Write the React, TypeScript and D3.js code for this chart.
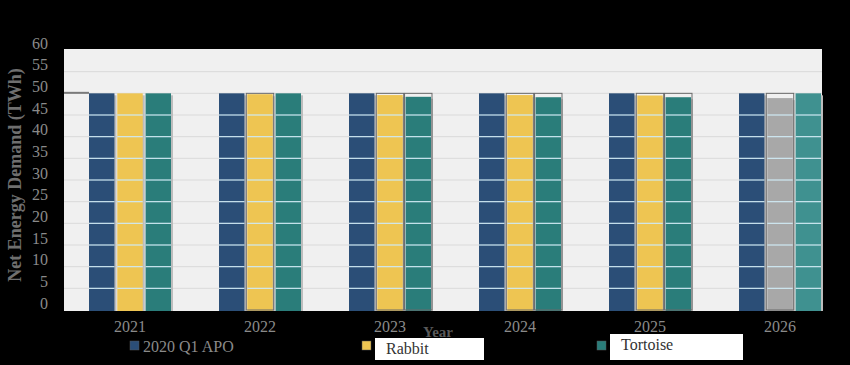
import React, { useRef, useEffect } from "react";
import * as d3 from "d3";

const years = ["2021", "2022", "2023", "2024", "2025", "2026"];
const seriesNames = ["2020 Q1 APO", "Rabbit", "Tortoise"];
const apo = [50.0, 50.0, 50.0, 50.0, 50.0, 50.0];
const rabbit = [50.0, 49.8, 49.6, 49.6, 49.5, 48.9];
const tortoise = [50.0, 50.0, 49.2, 49.1, 49.1, 50.0];
const yTicks = [0, 5, 10, 15, 20, 25, 30, 35, 40, 45, 50, 55, 60];

const colors = ["#2b4e77", "#eec552", "#2a7d7a"];
// 2026 drawn differently in the source
const lastColors = ["#2b4e77", "#a8a8a8", "#3f9190"];

function App() {
  const svgRef = useRef<SVGSVGElement>(null);

  useEffect(() => {
    document.body.style.margin = "0";
    document.body.style.background = "#000";

    const w = 850;
    const h = 365;
    const svg = d3.select(svgRef.current).attr("width", w).attr("height", h);
    svg.selectAll("*").remove();

    const font = "'Liberation Serif', 'DejaVu Serif', serif";
    const plot = { left: 64, right: 822, top: 49, bottom: 311 };

    svg.append("rect").attr("width", w).attr("height", h).attr("fill", "#000");

    const x = d3.scaleBand().domain(years).range([65, 845]).padding(0);
    const y = d3.scaleLinear().domain([0, 60]).range([310, 50]);
    const sx = d3
      .scaleBand()
      .domain(seriesNames)
      .range([0, 82])
      .paddingInner(0.1);

    svg
      .append("rect")
      .attr("x", plot.left)
      .attr("y", plot.top)
      .attr("width", plot.right - plot.left)
      .attr("height", plot.bottom - plot.top)
      .attr("fill", "#f0f0f0");

    // gridlines behind bars
    svg
      .append("g")
      .selectAll("line")
      .data(yTicks.slice(1, -1))
      .join("line")
      .attr("x1", plot.left)
      .attr("x2", plot.right)
      .attr("y1", (d) => y(d))
      .attr("y2", (d) => y(d))
      .attr("stroke", "#dadada")
      .attr("stroke-width", 1);

    // short gray marker at left
    svg
      .append("line")
      .attr("x1", plot.left)
      .attr("x2", (x("2021") as number) + x.bandwidth() / 2 - 41)
      .attr("y1", y(apo[0]) - 0.5)
      .attr("y2", y(apo[0]) - 0.5)
      .attr("stroke", "#7a7a7a")
      .attr("stroke-width", 2);

    const allSeries = [apo, rabbit, tortoise];
    const bars: { year: string; s: string; v: number; ref: number; c: string; i: number }[] = [];
    years.forEach((yr, yi) => {
      seriesNames.forEach((s, si) => {
        bars.push({
          year: yr,
          s,
          v: allSeries[si][yi],
          ref: apo[yi],
          c: yi === years.length - 1 ? lastColors[si] : colors[si],
          i: si,
        });
      });
    });

    const bx = (d: { year: string; s: string }) =>
      (x(d.year) as number) + x.bandwidth() / 2 - 41 + (sx(d.s) as number);
    const bw = sx.bandwidth();

    const g = svg.append("g");
    // soft shadow
    g.selectAll("rect.shadow")
      .data(bars)
      .join("rect")
      .attr("class", "shadow")
      .attr("x", (d) => bx(d) + 2)
      .attr("y", (d) => y(d.v) + 2)
      .attr("width", bw)
      .attr("height", (d) => y(0) - y(d.v) - 1)
      .attr("fill", "#bdbdbd");

    g.selectAll("rect.bar")
      .data(bars)
      .join("rect")
      .attr("class", "bar")
      .attr("x", (d) => bx(d))
      .attr("y", (d) => y(d.v))
      .attr("width", bw)
      .attr("height", (d) => y(0) - y(d.v) + 1)
      .attr("fill", (d) => d.c);

    // gridlines across bars
    bars.forEach((d) => {
      g.append("g")
        .selectAll("line")
        .data(yTicks.filter((t) => t > 0 && t < d.v))
        .join("line")
        .attr("x1", bx(d))
        .attr("x2", bx(d) + bw)
        .attr("y1", (t) => y(t))
        .attr("y2", (t) => y(t))
        .attr("stroke", "#cfe9f3")
        .attr("stroke-width", 1.2);
    });

    // outline boxes at APO level
    g.selectAll("rect.outline")
      .data(bars.filter((d) => d.i > 0 && d.ref - d.v > 0.05))
      .join("rect")
      .attr("class", "outline")
      .attr("x", (d) => bx(d) - 1)
      .attr("y", (d) => y(d.ref))
      .attr("width", bw + 2)
      .attr("height", (d) => y(0) - y(d.ref))
      .attr("fill", "none")
      .attr("stroke", "#6a6a6a")
      .attr("stroke-width", 1);

    // y tick labels
    svg
      .append("g")
      .selectAll("text")
      .data(yTicks)
      .join("text")
      .attr("x", 48)
      .attr("y", (d) => y(d) - 5)
      .attr("text-anchor", "end")
      .attr("dominant-baseline", "middle")
      .attr("font-family", font)
      .attr("font-size", 16)
      .attr("fill", "#8a8a8a")
      .text((d) => d);

    // x tick labels
    svg
      .append("g")
      .selectAll("text")
      .data(years)
      .join("text")
      .attr("x", (d) => (x(d) as number) + x.bandwidth() / 2)
      .attr("y", 332)
      .attr("text-anchor", "middle")
      .attr("font-family", font)
      .attr("font-size", 16)
      .attr("fill", "#8a8a8a")
      .text((d) => d);

    svg
      .append("text")
      .attr("transform", "translate(21,175) rotate(-90)")
      .attr("text-anchor", "middle")
      .attr("font-family", font)
      .attr("font-size", 18)
      .attr("font-weight", "bold")
      .attr("fill", "#6f6f6f")
      .text("Net Energy Demand (TWh)");

    svg
      .append("text")
      .attr("x", 438)
      .attr("y", 337)
      .attr("text-anchor", "middle")
      .attr("font-family", font)
      .attr("font-size", 15)
      .attr("font-weight", "bold")
      .attr("fill", "#5a5a5a")
      .text("Year");

    // legend
    const legend = [
      { sq: 130, box: null as null | number[], tx: 143, ty: 352, fill: "#8a8a8a" },
      { sq: 362, box: [375, 338, 109, 22], tx: 386, ty: 354, fill: "#333" },
      { sq: 597, box: [610, 334, 133, 26], tx: 621, ty: 350, fill: "#333" },
    ];
    legend.forEach((l, i) => {
      svg
        .append("rect")
        .attr("x", l.sq)
        .attr("y", 341)
        .attr("width", 9)
        .attr("height", 9)
        .attr("fill", colors[i])
        .attr("stroke", "#555")
        .attr("stroke-width", 0.5);
      if (l.box) {
        svg
          .append("rect")
          .attr("x", l.box[0])
          .attr("y", l.box[1])
          .attr("width", l.box[2])
          .attr("height", l.box[3])
          .attr("fill", "#fff");
      }
      svg
        .append("text")
        .attr("x", l.tx)
        .attr("y", l.ty)
        .attr("font-family", font)
        .attr("font-size", 16)
        .attr("fill", l.fill)
        .text(seriesNames[i]);
    });
  }, []);

  return (
    <div style={{ background: "#000", width: 850, height: 365 }}>
      <svg ref={svgRef} style={{ display: "block" }}></svg>
    </div>
  );
}

export default App;
